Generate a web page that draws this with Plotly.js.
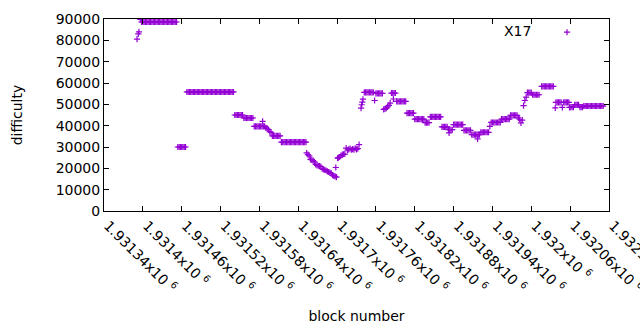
<!DOCTYPE html>
<html>
<head>
<meta charset="utf-8">
<script src="https://cdn.plot.ly/plotly-3.0.1.min.js"></script>
<style>html,body{margin:0;padding:0;background:#fff;}#chart{width:640px;height:330px;}</style>
</head>
<body>
<div id="chart"></div>
<script>
// block numbers (x) and difficulty (y), one line per run
var blockNumber = [
1931391,1931393,1931394,1931396,
1931398,1931400,1931402,1931404,1931406,1931408,1931410,1931412,1931414,1931416,1931418,1931420,1931422,1931424,1931426,1931428,1931430,1931432,1931434,1931436,1931438,1931440,1931442,1931444,1931446,1931448,1931450,1931452,
1931454,1931456,1931458,1931460,1931462,1931464,1931466,
1931468,1931470,1931472,1931474,1931476,1931478,1931480,1931482,1931484,1931486,1931488,1931490,1931492,1931494,1931496,1931498,1931500,1931502,1931504,1931506,1931508,1931510,1931512,1931514,1931516,1931518,1931520,1931522,1931524,1931526,1931528,1931530,1931532,1931534,1931536,1931538,1931540,
1931542,1931544,1931546,1931548,1931550,1931552,1931554,
1931556,1931558,1931560,1931562,1931564,1931566,1931568,1931570,
1931572,1931574,1931576,1931578,1931580,1931582,1931584,1931586,1931588,1931585,
1931590,1931592,1931594,1931596,1931598,
1931600,1931602,1931604,1931606,1931608,1931610,1931612,
1931614,1931616,1931618,1931620,1931622,1931624,1931626,1931628,1931630,1931632,1931634,1931636,1931638,1931640,1931642,1931644,1931646,1931648,1931650,1931652,
1931653,1931655,1931657,
1931659,1931661,1931663,1931665,
1931667,1931669,1931671,1931673,1931675,
1931677,1931679,1931681,1931683,
1931685,1931687,1931689,1931691,
1931693,1931695,1931697,1931699,
1931698,1931701,
1931702,1931704,1931706,1931708,1931710,1931712,
1931714,1931716,1931718,1931720,1931722,1931724,1931726,1931728,1931730,1931732,1931734,
1931737,1931738,1931739,1931740,
1931742,1931744,1931746,1931748,1931750,1931752,1931754,1931756,
1931758,
1931760,1931762,1931764,1931766,1931768,1931770,
1931772,1931774,1931776,1931778,1931780,
1931782,
1931784,1931786,1931788,1931790,1931787,
1931792,1931794,1931796,1931798,1931800,1931802,1931804,1931806,
1931808,1931810,1931812,1931814,1931816,1931818,
1931820,1931822,1931824,1931826,1931828,1931830,1931832,1931834,
1931836,1931838,1931840,1931842,
1931844,1931846,1931848,1931850,1931852,1931854,1931856,1931858,1931860,
1931862,1931864,1931866,1931868,1931870,
1931872,1931874,1931876,1931878,1931873,
1931880,1931882,1931884,1931886,1931888,1931890,1931892,1931894,
1931896,1931898,1931900,1931902,1931904,1931906,
1931908,1931910,1931912,1931914,1931916,1931918,1931920,1931917,
1931922,1931924,1931926,1931928,1931930,1931932,1931934,
1931936,
1931938,1931940,1931942,1931944,1931946,1931948,1931950,1931952,
1931954,1931956,1931958,1931960,1931962,1931964,1931966,
1931968,1931970,1931972,1931974,1931976,1931978,
1931980,1931982,1931984,1931986,
1931988,1931990,1931992,
1931994,1931996,1931998,1932000,
1932002,1932004,1932006,1932008,1932010,1932012,
1932016,1932018,1932020,1932022,1932024,1932026,1932028,1932030,1932032,1932034,
1932037,
1932038,1932040,1932042,1932044,1932046,
1932048,
1932050,1932052,1932054,1932056,1932058,1932059,
1932061,1932063,1932065,
1932067,1932069,1932071,1932073,
1932075,1932077,1932079,
1932081,1932083,1932085,1932087,1932089,1932091,1932093,1932095,1932097,1932099,1932101,1932103,1932105,1932107,1932109,1932111
];
var difficulty = [
80600,83000,84000,89800,
88600,88600,88600,88600,88600,88600,88600,88600,88600,88600,88600,88600,88600,88600,88600,88600,88600,88600,88600,88600,88600,88600,88600,88600,88600,88600,88600,88600,
30000,30000,30000,30000,30000,30000,30000,
55800,55800,55800,55800,55800,55800,55800,55800,55800,55800,55800,55800,55800,55800,55800,55800,55800,55800,55800,55800,55800,55800,55800,55800,55800,55800,55800,55800,55800,55800,55800,55800,55800,55800,55800,55800,55800,
45000,45000,45000,45000,45000,45000,45000,
43600,43600,43600,43600,43600,43600,43600,43600,
39700,39700,39700,39700,39700,39700,39700,39700,39700,42000,
39000,38800,38200,37200,36900,
35200,35200,35200,35200,35200,35200,35200,
32300,32300,32300,32300,32300,32300,32300,32300,32300,32300,32300,32300,32300,32300,32300,32300,32300,32300,32300,32300,
27200,26400,25800,
24200,24000,23600,23000,
21800,21400,21200,21000,20800,
19800,19500,19300,19000,
18600,18300,18000,17600,
16800,16400,16200,15900,
20400,24800,
25000,25300,26000,26400,26600,26700,
29500,28600,28900,29300,28700,29000,28800,29400,28900,29200,31100,
48200,49800,51000,52400,
55600,55600,55600,55600,55600,55600,55600,55600,
51800,
55100,55100,55100,55100,55100,55100,
47600,47900,48200,48800,49500,
50600,
55300,55300,55300,55300,52500,
51400,51400,51400,51400,51400,51400,51400,51400,
45900,45900,45900,45900,45900,45900,
43100,43100,43100,43100,43100,43100,43100,43100,
41400,41400,41400,41400,
44100,44100,44100,44100,44100,44100,44100,44100,44100,
39400,39400,39400,39400,39400,
38100,38100,38100,38100,36600,
40500,40500,40500,40500,40500,40500,40500,40500,
37800,37800,37800,37800,37800,37800,
35800,35800,35800,35800,35800,35800,35800,33800,
36900,36900,36900,36900,36900,36900,36900,
39700,
41500,41500,41500,41500,41500,41500,41500,41500,
43100,43100,43100,43100,43100,43100,43100,
44800,44800,44800,44800,44800,44800,
43600,43000,41300,42600,
49400,51800,53400,
55500,55500,55500,55500,
54500,54500,54500,54500,54500,54500,
58400,58400,58400,58400,58400,58400,58400,58400,58400,58400,
48300,
50900,50900,50900,50900,50900,
48600,
50900,50900,50900,50900,50900,48600,
48700,48700,48700,
49800,49800,49800,49800,
48700,48700,48700,
49200,49200,49200,49200,49200,49200,49200,49200,49200,49200,49200,49200,49200,49200,49200,49200
];
var xTickValues = [1931340,1931400,1931460,1931520,1931580,1931640,1931700,1931760,1931820,1931880,1931940,1932000,1932060,1932120];
var xTickLabels = ['1.93134','1.9314','1.93146','1.93152','1.93158','1.93164','1.9317','1.93176','1.93182','1.93188','1.93194','1.932','1.93206','1.93212'];
var yTickValues = [0,10000,20000,30000,40000,50000,60000,70000,80000,90000];
var yTickLabels = ['0','10000','20000','30000','40000','50000','60000','70000','80000','90000'];
var seriesName = 'X17';

var trace = {
  x: blockNumber, y: difficulty, type: 'scatter', mode: 'markers', name: ' ',
  marker: {symbol: 'cross-thin', size: 4.4, color: '#9400D3', line: {color: '#9400D3', width: 1.2}},
  hoverinfo: 'x+y'
};
var layout = {
  width: 640, height: 330,
  margin: {l: 104, r: 31, t: 19, b: 119, pad: 0},
  paper_bgcolor: '#ffffff', plot_bgcolor: '#ffffff',
  font: {family: 'DejaVu Sans, sans-serif', size: 14, color: '#000000'},
  showlegend: true,
  legend: {x: 0.8773, y: 1.0124, xanchor: 'left', yanchor: 'top', bgcolor: 'rgba(0,0,0,0)', font: {size: 14}},
  annotations: [{text: seriesName, xref: 'paper', yref: 'paper', x: 0.8495, y: 0.9396,
    xanchor: 'right', yanchor: 'middle', showarrow: false, font: {size: 14, color: '#000'}}],
  xaxis: {
    range: [1931340, 1932120], tickmode: 'array', tickvals: xTickValues,
    ticktext: xTickLabels.map(function(t){ return t + 'x10 <sup>6</sup>'; }),
    tickangle: 45, ticks: 'inside', ticklen: 5, tickcolor: '#000', mirror: 'allticks',
    ticklabeloverflow: 'allow', ticklabelshift: 4,
    showline: true, linecolor: '#000', linewidth: 1, showgrid: false, zeroline: false,
    title: {text: 'block number', standoff: 16, font: {size: 14}}
  },
  yaxis: {
    range: [0, 90000], tickmode: 'array', tickvals: yTickValues, ticktext: yTickLabels,
    ticks: 'inside', ticklen: 5, tickcolor: '#000', mirror: 'allticks',
    showline: true, linecolor: '#000', linewidth: 1, showgrid: false, zeroline: false,
    title: {text: 'difficulty', standoff: 29, font: {size: 14}}
  }
};
Plotly.newPlot('chart', [trace], layout, {staticPlot: true, displayModeBar: false});
</script>
</body>
</html>
